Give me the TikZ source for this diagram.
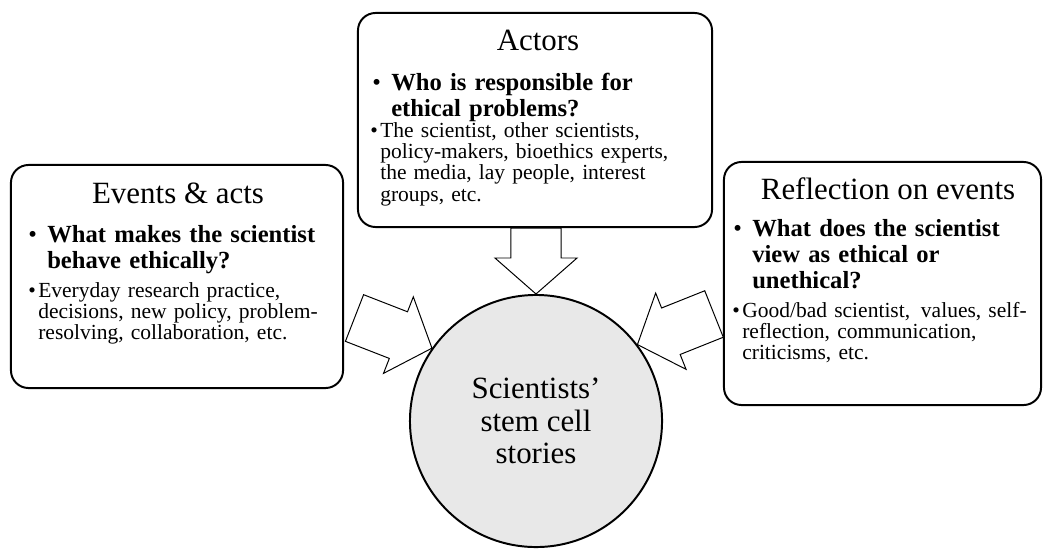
\documentclass[tikz,border=0pt]{standalone}
\usepackage{fontspec}
\setmainfont{Liberation Serif}
\usepackage{xcolor}
\usepackage{tikz}
\usetikzlibrary{calc}
\newcommand{\headfont}{\fontsize{22}{24}\selectfont}
\newcommand{\qfont}{\fontsize{17.5}{18.5}\selectfont\bfseries}
\newcommand{\exfont}{\fontsize{15.3}{15.2}\selectfont}
\newcommand{\circfont}{\fontsize{22}{23}\selectfont}
\newcommand{\qitem}[1]{\hangindent=0.475cm\hangafter=1\noindent\makebox[0.475cm][l]{\mdseries\textbullet}#1\par}
\newcommand{\exitem}[1]{\hangindent=0.25cm\hangafter=1\noindent\makebox[0.25cm][l]{\textbullet}#1\par}
\tikzstyle{panel} = [rectangle, rounded corners=12.5pt, draw=black, line width=1.4pt, fill=white]
\tikzstyle{heading} = [font=\headfont, inner sep=0pt, anchor=base]
\tikzstyle{question} = [font=\qfont, text width=9cm, inner sep=0pt, anchor=base west]
\tikzstyle{example} = [font=\exfont, text width=9cm, inner sep=0pt, anchor=base west]
\tikzstyle{story} = [circle, draw=black, line width=1.4pt, fill=black!9, minimum size=6.3cm, inner sep=0pt, align=center, font=\circfont]
\tikzstyle{fatarrow} = [draw=black, line width=0.7pt, fill=white, line join=miter]
% block arrow from #1 (tail) to #2 (tip)
\newcommand{\blockarrow}[2]{%
  \coordinate (ahead) at ($(#2)!25.6pt!(#1)$);
  \draw[fatarrow] ($(#1)!17.8pt!90:(#2)$) -- ($(ahead)!17.8pt!90:(#2)$) -- ($(ahead)!29.2pt!90:(#2)$)
    -- (#2) -- ($(ahead)!29.2pt!-90:(#2)$) -- ($(ahead)!17.8pt!-90:(#2)$) -- ($(#1)!17.8pt!-90:(#2)$) -- cycle;
}
\begin{document}
\begin{tikzpicture}[x=0.025cm, y=-0.025cm]
        \useasboundingbox (0,0) rectangle (1043,548);
        % boxes
        \node (events) [panel, minimum width=8.3cm, minimum height=5.575cm] at (177,276.5) {};
        \node (actors) [panel, minimum width=8.85cm, minimum height=5.35cm] at (535,120) {};
        \node (reflect) [panel, minimum width=7.925cm, minimum height=6.075cm] at (882.5,283.5) {};
        \node (stories) [story] at (536,421) {Scientists’\\stem cell\\stories};
        % events & acts
        \node (evhead) [heading] at (178,203) {Events \& acts};
        \node (evquest) [question] at (28,242) {\qitem{What makes the scientist\newline behave ethically?}};
        \node (evexamp) [example] at (28,297) {\exitem{Everyday research practice,\newline decisions, new policy, problem-\newline resolving, collaboration, etc.}};
        % actors
        \node (achead) [heading] at (538,50) {Actors};
        \node (acquest) [question] at (372,90) {\qitem{Who is responsible for\newline ethical problems?}};
        \node (acexamp) [example] at (370,137) {\exitem{The scientist, other scientists,\newline policy-makers, bioethics experts,\newline the media, lay people, interest\newline groups, etc.}};
        % reflection
        \node (rfhead) [heading] at (888,199) {Reflection on events};
        \node (rfquest) [question] at (733,236) {\qitem{What does the scientist\newline view as ethical or\newline unethical?}};
        \node (rfexamp) [example] at (732,317) {\exitem{Good/bad scientist,\, values, self-\newline reflection, communication,\newline criticisms, etc.}};
        % arrows
        \coordinate (evtail) at (354.5,318);
        \coordinate (rftail) at (714,314);
        \blockarrow{evtail}{stories.145}
        \blockarrow{actors.south -| stories.north}{stories.north}
        \blockarrow{rftail}{stories.37.7}
\end{tikzpicture}
\end{document}
